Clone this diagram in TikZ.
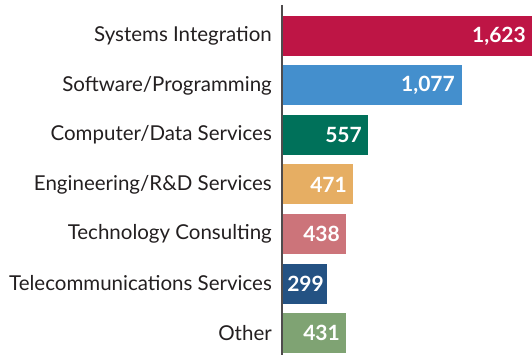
\documentclass[tikz,border=0pt]{standalone}
\usepackage{fontspec}
\setmainfont{Lato}
\definecolor{c1}{HTML}{BE1545}
\definecolor{c2}{HTML}{448FCD}
\definecolor{c3}{HTML}{00715A}
\definecolor{c4}{HTML}{E6AE63}
\definecolor{c5}{HTML}{CC747A}
\definecolor{c6}{HTML}{245283}
\definecolor{c7}{HTML}{7FA373}
\definecolor{txt}{HTML}{231F20}
\tikzset{
  cat/.style={anchor=east, font=\fontsize{20.5}{24}\selectfont, text=txt, inner sep=0pt},
  val/.style={anchor=east, font=\bfseries\fontsize{21}{24}\selectfont, text=white, inner sep=0pt},
  bar/.style={fill=#1, draw=none},
  axis/.style={draw=txt!80, line width=1.2pt}
}
\begin{document}
\begin{tikzpicture}[x=1pt,y=-1pt]
\useasboundingbox (0,0) rectangle (532,355);
\foreach \i/\name/\v/\e/\g/\c in {
  0/{Systems Integration}/{1,623}/532/6/c1,
  1/{Software/Programming}/{1,077}/462/7/c2,
  2/{Computer/Data Services}/{557}/368/6/c3,
  3/{Engineering/R\&D Services}/{471}/353/6/c4,
  4/{Technology Consulting}/{438}/346/6/c5,
  5/{Telecommunications Services}/{299}/327/3/c6,
  6/{Other}/{431}/346/6/c7}{
  \pgfmathsetmacro{\t}{16+49.5*\i}
  \pgfmathsetmacro{\b}{\t+40}
  \pgfmathsetmacro{\m}{\t+20}
  \fill[bar=\c] (283,\t) rectangle (\e,\b);
  \node[cat] (lab\i) at (272,\m) {\name};
  \node[val] (val\i) at (\e-\g,\m) {\v};
}
\coordinate (atop) at (282,5);
\coordinate (abot) at (282,355);
\draw[axis] (atop) -- (abot);
\end{tikzpicture}
\end{document}
